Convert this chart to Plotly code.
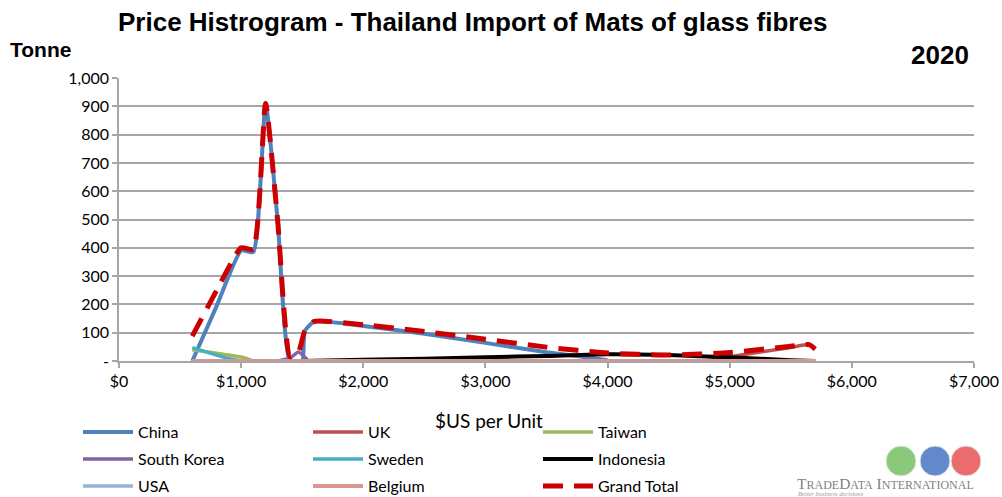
import plotly.graph_objects as go

# ---- data ----
china_x = [600, 800, 1000, 1100, 1200, 1300, 1400, 1500, 1520, 1600, 2000, 2500, 3000, 3500, 3700, 4000]
china_y = [0, 195, 390, 385, 910, 490, 0, 0, 105, 140, 124, 96, 64, 31, 20, 3]

uk_x = [4800, 5000, 5500, 5650, 5700]
uk_y = [0, 15, 48, 58, 42]

taiwan_x = [600, 1000, 1100]
taiwan_y = [40, 14, 0]

skorea_x = [1300, 1400, 1470, 1550]
skorea_y = [0, 10, 32, 0]

sweden_x = [600, 900, 1000]
sweden_y = [47, 8, 0]

indonesia_x = [1500, 2000, 2500, 3000, 3500, 4000, 4500, 5000, 5500, 5700]
indonesia_y = [0, 4, 8, 13, 18, 24, 21, 13, 3, 0]

usa_x = [600, 5700]
usa_y = [0, 0]

belgium_x = [600, 1000, 2000, 3000, 4000, 5000, 5700]
belgium_y = [0, 0, 0, 0, 0, 0, 0]

total_x = [600, 800, 1000, 1100, 1200, 1300, 1400, 1470, 1520, 1600, 2000, 2500, 3000, 3500,
           4000, 4500, 5000, 5500, 5650, 5700]
total_y = [88, 250, 400, 395, 910, 490, 15, 32, 105, 140, 128, 104, 77, 49,
           28, 21, 30, 52, 58, 42]

y_ticks = [0, 100, 200, 300, 400, 500, 600, 700, 800, 900, 1000]
y_labels = ["-", "100", "200", "300", "400", "500", "600", "700", "800", "900", "1,000"]
x_ticks = [0, 1000, 2000, 3000, 4000, 5000, 6000, 7000]
x_labels = ["$0", "$1,000", "$2,000", "$3,000", "$4,000", "$5,000", "$6,000", "$7,000"]

series = [
    ("China", china_x, china_y, "#4F81BD", 4, "legend"),
    ("UK", uk_x, uk_y, "#C0504D", 3.5, "legend"),
    ("Taiwan", taiwan_x, taiwan_y, "#9BBB59", 3.5, "legend"),
    ("South Korea", skorea_x, skorea_y, "#8064A2", 3.5, "legend2"),
    ("Sweden", sweden_x, sweden_y, "#4BACC6", 3.5, "legend2"),
    ("Indonesia", indonesia_x, indonesia_y, "#000000", 4, "legend2"),
    ("USA", usa_x, usa_y, "#95B3D7", 3.5, "legend3"),
    ("Belgium", belgium_x, belgium_y, "#D99694", 4, "legend3"),
]

SM = 0.5
fig = go.Figure()
for name, xs, ys, col, w, lg in series:
    fig.add_trace(go.Scatter(x=xs, y=ys, name=name, mode="lines",
                             line=dict(color=col, width=w, shape="spline", smoothing=SM),
                             legend=lg))
fig.add_trace(go.Scatter(x=total_x, y=total_y, name="Grand Total", mode="lines",
                         line=dict(color="#CC0000", width=5, shape="spline", smoothing=SM,
                                   dash="20px,11px"),
                         legend="legend3"))

TFONT = "Liberation Sans, Arial, sans-serif"
FONT = "Lato, sans-serif"
grid = "#A6A6A6"

L, R, T, B = 119, 28, 78, 136
fig.update_layout(
    width=1002, height=497,
    margin=dict(l=L, r=R, t=T, b=B, autoexpand=False),
    paper_bgcolor="white", plot_bgcolor="white",
    font=dict(family=FONT, size=16, color="#000000"),
    showlegend=True,
    xaxis=dict(range=[0, 7000], tickvals=x_ticks, ticktext=x_labels, automargin=False,
               showgrid=False, zeroline=False, showline=True, linecolor=grid, linewidth=1.5,
               ticks="outside", ticklen=5, tickcolor=grid, tickwidth=1.5,
               tickfont=dict(size=16, family=FONT)),
    yaxis=dict(range=[0, 1000], tickvals=y_ticks, ticktext=y_labels, automargin=False,
               showgrid=True, gridcolor=grid, gridwidth=1.5, zeroline=False,
               showline=True, linecolor=grid, linewidth=1.5,
               ticks="outside", ticklen=5, tickcolor=grid, tickwidth=1.5,
               tickfont=dict(size=16, family=FONT)),
)

leg_common = dict(orientation="h", xanchor="left", yanchor="middle",
                  xref="container", yref="container",
                  entrywidth=165, entrywidthmode="pixels", bgcolor="rgba(0,0,0,0)",
                  font=dict(size=16, family=FONT), itemwidth=50, tracegroupgap=0)
fig.update_layout(
    legend=dict(x=78 / 1002, y=(497 - 432) / 497, **leg_common),
    legend2=dict(x=78 / 1002, y=(497 - 459) / 497, **leg_common),
    legend3=dict(x=78 / 1002, y=(497 - 486) / 497, **leg_common),
)

annotations = [
    dict(text="<b>Price Histrogram - Thailand Import of Mats of glass fibres</b>",
         x=472, y=22, showarrow=False, font=dict(size=26, family=TFONT)),
    dict(text="<b>Tonne</b>", x=8, y=50, showarrow=False, xanchor="left",
         font=dict(size=21, family=TFONT)),
    dict(text="<b>2020</b>", x=971, y=55, showarrow=False, xanchor="right",
         font=dict(size=26, family=TFONT)),
    dict(text="$US per Unit", x=489, y=420, showarrow=False,
         font=dict(size=19, family=FONT)),
    dict(text="T<span style='font-size:12px'>RADE</span>D<span style='font-size:12px'>ATA</span> I<span style='font-size:12px'>NTERNATIONAL</span>",
         x=795, y=483, showarrow=False, xanchor="left",
         font=dict(size=15.5, family="Liberation Serif, serif", color="#7F7F7F")),
    dict(text="<i>Better business decisions</i>", x=796, y=493, showarrow=False, xanchor="left",
         font=dict(size=6.5, family="Liberation Serif, serif", color="#9A9A9A")),
]
pw, ph = 1002 - L - R, 497 - T - B
for a in annotations:
    px, py = a["x"], a["y"]
    a["x"] = (px - L) / pw
    a["y"] = (497 - B - py) / ph
    a["xref"] = "paper"
    a["yref"] = "paper"
    a.setdefault("yanchor", "middle")
fig.update_layout(annotations=annotations)

# logo globes
shapes = []
for cx, col in [(901, "#6DBB5A"), (935, "#3A6CC0"), (966, "#E54848")]:
    r = 15
    shapes.append(dict(type="circle", xref="paper", yref="paper",
                       x0=(cx - r - L) / pw, x1=(cx + r - L) / pw,
                       y0=(497 - B - (461 + r)) / ph, y1=(497 - B - (461 - r)) / ph,
                       fillcolor=col, line=dict(color="#E0E0E0", width=1), opacity=0.8))
fig.update_layout(shapes=shapes)

fig.write_html("out.html", config={"displayModeBar": False},
               post_script="document.body.style.margin='0';document.body.style.overflow='hidden';")
